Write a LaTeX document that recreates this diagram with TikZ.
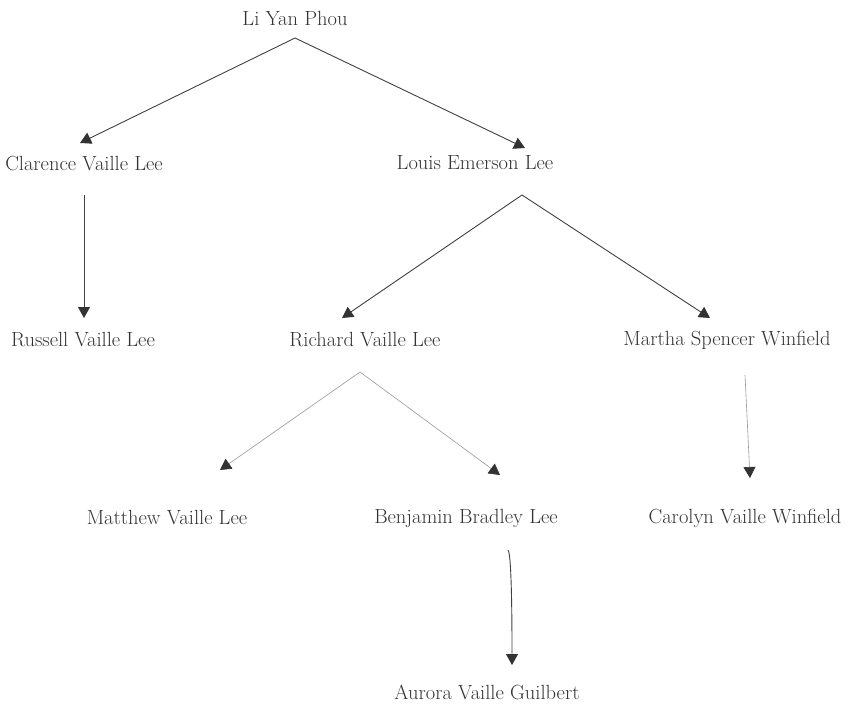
\documentclass[tikz,border=0pt]{standalone}
\usepackage{xcolor}
\usetikzlibrary{arrows.meta}

\definecolor{inkgray}{HTML}{333333}

\begin{document}
\begin{tikzpicture}[x=1pt, y=-1pt,
    person/.style={font=\fontsize{20.5}{24}\selectfont, text=black!80, inner sep=0pt},
    link/.style={draw=black!75, line width=0.9pt,
      -{Triangle[length=11pt, width=12pt, color=inkgray]}},
    faint/.style={link, draw=black!40, line width=0.6pt}]
  \useasboundingbox (0,0) rectangle (858,706);

  % the family, one generation per row
  \foreach \n/\x/\y/\t in {
    li/295/18/Li Yan Phou,
    clarence/84/163/Clarence Vaille Lee,
    louis/475/163/Louis Emerson Lee,
    russell/83/340/Russell Vaille Lee,
    richard/365/340/Richard Vaille Lee,
    martha/727/340/Martha Spencer Winfield,
    matthew/167/518/Matthew Vaille Lee,
    benjamin/466/518/Benjamin Bradley Lee,
    carolyn/745/518/Carolyn Vaille Winfield,
    aurora/487/692/Aurora Vaille Guilbert%
  } {
    \node [person] (\n) at (\x,\y) {\t};
  }

  % parent to child, shifts are (right, down) from the centres
  \foreach \a/\sa/\b/\sb/\s in {
    li/{0,20}/clarence/{-4,-20}/link,
    li/{0,20}/louis/{50,-15}/link,
    clarence/{0,32}/russell/{1,-22}/link,
    louis/{47,32}/richard/{-23,-22}/link,
    louis/{47,32}/martha/{-17,-22}/link,
    richard/{-5,32}/matthew/{53,-48}/faint,
    richard/{-5,32}/benjamin/{34,-43}/faint,
    martha/{18,35}/carolyn/{5,-40}/faint%
  } {
    \draw [\s] ([shift={(\sa)}]\a.center) -- ([shift={(\sb)}]\b.center);
  }

  % the last one bends a little at the top
  \draw [link] ([shift={(42,32)}]benjamin.center)
    .. controls +(4,4) and +(0,-30) .. ([shift={(25,-27)}]aurora.center);
\end{tikzpicture}
\end{document}
